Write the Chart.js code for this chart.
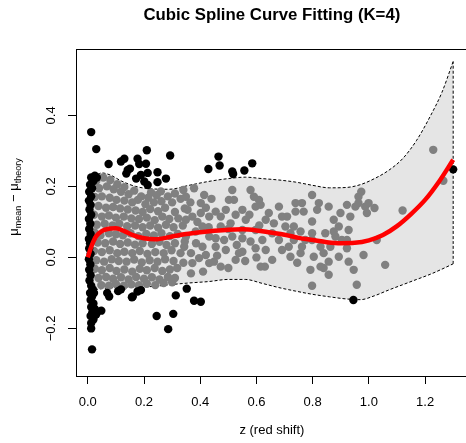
<!DOCTYPE html>
<html>
<head>
<meta charset="utf-8">
<script src="https://cdn.jsdelivr.net/npm/chart.js@4.4.0/dist/chart.umd.min.js"></script>
<style>
  html, body { margin: 0; padding: 0; background: #fff; overflow: hidden; }
  #wrap { width: 472px; height: 443px; }
</style>
</head>
<body>
<div id="wrap"><canvas id="chart" width="472" height="443"></canvas></div>
<script>
// axis ticks
const xTicks = [0, 0.2, 0.4, 0.6, 0.8, 1.0, 1.2];
const yTicks = [-0.2, 0, 0.2, 0.4];

// fitted cubic spline (red)
const fitZ  = [0, 0.01, 0.02, 0.03, 0.05, 0.07, 0.1, 0.13, 0.16, 0.2, 0.24, 0.3, 0.35, 0.4, 0.45, 0.5, 0.55, 0.6, 0.65, 0.7, 0.75, 0.8, 0.85, 0.9, 0.95, 1.0, 1.05, 1.1, 1.15, 1.2, 1.25, 1.3];
const fitMu = [0, 0.025, 0.045, 0.06, 0.074, 0.08, 0.082, 0.074, 0.063, 0.054, 0.051, 0.059, 0.066, 0.071, 0.075, 0.078, 0.079, 0.076, 0.07, 0.064, 0.055, 0.049, 0.043, 0.04, 0.041, 0.048, 0.063, 0.088, 0.122, 0.162, 0.214, 0.275];

// confidence band (dashed, grey fill)
const bandZ     = [0.01, 0.03, 0.05, 0.08, 0.12, 0.17, 0.23, 0.29, 0.36, 0.43, 0.5, 0.56, 0.62, 0.68, 0.74, 0.8, 0.86, 0.92, 0.97, 1.02, 1.07, 1.12, 1.17, 1.22, 1.26, 1.3];
const bandUpper = [0.214, 0.23, 0.238, 0.232, 0.215, 0.2, 0.193, 0.192, 0.203, 0.214, 0.222, 0.226, 0.222, 0.218, 0.212, 0.203, 0.196, 0.197, 0.205, 0.222, 0.245, 0.278, 0.33, 0.4, 0.465, 0.552];
const bandLower = [-0.082, -0.09, -0.088, -0.086, -0.084, -0.083, -0.082, -0.077, -0.072, -0.068, -0.062, -0.062, -0.073, -0.085, -0.095, -0.104, -0.111, -0.117, -0.119, -0.108, -0.092, -0.077, -0.062, -0.047, -0.033, -0.018];

// observations inside the band (grey)
const grayPoints = [
  [0.03,0.215],[0.055,0.225],[0.08,0.218],[0.105,0.206],[0.13,0.198],[0.165,0.188],[0.225,0.183],[0.26,0.186],[0.31,0.18],[0.34,0.19],
  [0.04,0.195],[0.068,0.2],[0.092,0.192],[0.118,0.185],[0.145,0.178],[0.19,0.172],[0.215,0.168],[0.245,0.175],[0.285,0.172],
  [0.025,0.17],[0.05,0.172],[0.078,0.168],[0.102,0.162],[0.13,0.16],[0.158,0.155],[0.178,0.162],[0.205,0.15],[0.235,0.155],[0.262,0.158],[0.3,0.155],[0.33,0.165],
  [0.038,0.145],[0.065,0.14],[0.09,0.142],[0.115,0.138],[0.142,0.135],[0.17,0.132],[0.195,0.128],[0.222,0.136],[0.25,0.13],[0.275,0.14],[0.31,0.128],[0.345,0.138],
  [0.022,0.12],[0.05,0.115],[0.075,0.118],[0.1,0.112],[0.128,0.115],[0.155,0.11],[0.182,0.108],[0.21,0.112],[0.238,0.105],[0.265,0.115],[0.29,0.108],[0.322,0.11],
  [0.032,0.092],[0.06,0.095],[0.088,0.09],[0.112,0.095],[0.14,0.088],[0.168,0.09],[0.195,0.085],[0.222,0.09],[0.25,0.084],[0.278,0.092],[0.305,0.085],[0.338,0.09],
  [0.024,0.07],[0.045,0.062],[0.075,0.068],[0.1,0.065],[0.125,0.062],[0.152,0.068],[0.18,0.06],[0.208,0.066],[0.235,0.062],[0.262,0.068],[0.292,0.06],[0.32,0.066],
  [0.035,0.042],[0.062,0.04],[0.09,0.045],[0.115,0.038],[0.142,0.042],[0.168,0.036],[0.195,0.04],[0.228,0.038],[0.255,0.044],[0.28,0.035],[0.31,0.04],[0.345,0.045],
  [0.022,0.018],[0.05,0.015],[0.078,0.02],[0.105,0.012],[0.13,0.016],[0.158,0.012],[0.185,0.018],[0.212,0.01],[0.24,0.015],[0.27,0.012],[0.298,0.02],[0.33,0.012],
  [0.03,-0.008],[0.058,-0.012],[0.085,-0.005],[0.11,-0.01],[0.138,-0.012],[0.165,-0.006],[0.192,-0.014],[0.22,-0.008],[0.248,-0.012],[0.275,-0.005],[0.305,-0.01],[0.34,-0.015],
  [0.025,-0.032],[0.05,-0.036],[0.078,-0.03],[0.102,-0.038],[0.13,-0.034],[0.158,-0.04],[0.185,-0.032],[0.21,-0.036],[0.238,-0.03],[0.265,-0.038],[0.292,-0.034],[0.318,-0.03],
  [0.038,-0.058],[0.065,-0.055],[0.09,-0.06],[0.118,-0.056],[0.145,-0.062],[0.172,-0.055],[0.2,-0.06],[0.228,-0.056],[0.255,-0.062],[0.285,-0.055],[0.31,-0.058],
  [0.048,-0.078],[0.075,-0.08],[0.1,-0.075],[0.128,-0.08],[0.155,-0.076],[0.182,-0.078],[0.21,-0.074],[0.24,-0.078],[0.27,-0.072],[0.3,-0.07],
  [0.349,0.171],[0.378,0.195],[0.414,0.176],[0.402,0.153],[0.355,0.134],[0.402,0.125],[0.372,0.115],[0.432,0.115],[0.455,0.129],[0.491,0.134],
  [0.514,0.19],[0.579,0.19],[0.591,0.171],[0.52,0.162],[0.55,0.134],[0.597,0.143],[0.526,0.12],[0.562,0.106],[0.508,0.096],[0.473,0.087],
  [0.432,0.059],[0.455,0.054],[0.485,0.049],[0.514,0.059],[0.55,0.054],[0.579,0.045],[0.408,0.03],[0.455,0.03],[0.367,0.012],[0.42,0.007],
  [0.491,0.021],[0.55,0.016],[0.597,0.026],[0.372,-0.016],[0.367,-0.045],[0.432,-0.016],[0.449,-0.012],[0.538,0.012],[0.349,0.059],[0.349,0.106],
  [0.384,0.073],[0.408,0.087],[0.473,0.115],[0.55,0.077],[0.597,0.077],[0.502,0.162],[0.343,0.03],[0.396,-0.002],[0.473,-0.026],[0.526,-0.007],
  [0.39,0.1],[0.42,0.14],[0.44,0.165],[0.365,0.155],[0.385,0.04],[0.43,0.085],[0.5,0.08],[0.53,0.035],[0.575,0.12],[0.61,0.09],
  [0.41,-0.04],[0.46,0.005],[0.5,-0.03],[0.56,-0.01],[0.6,0.0],
  [0.609,0.162],[0.615,0.148],[0.633,0.106],[0.644,0.125],[0.662,0.096],[0.656,0.068],[0.621,0.049],[0.633,0.021],[0.656,-0.007],[0.63,-0.026],
  [0.68,0.143],[0.691,0.115],[0.709,0.115],[0.703,0.087],[0.721,0.068],[0.68,0.049],[0.691,0.021],[0.715,0.03],[0.721,0.002],[0.739,0.153],
  [0.762,0.153],[0.739,0.129],[0.768,0.129],[0.733,0.087],[0.757,0.073],[0.733,0.049],[0.774,0.049],[0.762,0.03],[0.757,0.012],[0.745,-0.015],
  [0.798,0.176],[0.822,0.153],[0.816,0.134],[0.798,0.101],[0.798,0.068],[0.798,0.049],[0.828,0.03],[0.804,0.002],[0.828,-0.026],[0.792,-0.035],
  [0.798,-0.08],[0.839,-0.03],[0.857,-0.049],[0.839,0.012],[0.857,-0.012],[0.863,0.03],[0.845,0.068],[0.875,0.073],[0.881,0.059],[0.857,0.143],
  [0.875,0.106],[0.899,0.125],[0.893,0.087],[0.904,0.049],[0.893,0.002],[0.922,0.148],[0.934,0.115],[0.928,0.077],[0.922,0.049],[0.922,0.026],
  [0.928,-0.012],[0.946,-0.035],[0.952,0.143],[0.963,0.171],[0.973,0.185],[0.963,0.153],[0.987,0.143],[0.999,0.153],[0.993,0.125],[1.02,0.139],
  [0.981,0.007],[0.957,-0.077],[1.028,0.049],[1.058,-0.021],[1.12,0.132],[1.229,0.303],[1.265,0.216],[0.615,-0.026]
];

// observations outside the band (black)
const blackPoints = [
  [0.012,0.225],[0.02,0.215],[0.008,0.205],[0.015,0.195],[0.005,0.185],[0.012,0.172],[0.004,0.16],[0.01,0.148],[0.006,0.135],[0.012,0.12],
  [0.004,0.108],[0.009,0.095],[0.005,0.08],[0.01,0.066],[0.004,0.052],[0.008,0.04],[0.005,0.025],[0.01,0.01],[0.004,-0.005],[0.009,-0.02],
  [0.005,-0.035],[0.01,-0.05],[0.006,-0.065],[0.012,-0.08],[0.018,-0.09],[0.008,-0.1],[0.015,-0.11],[0.022,-0.1],[0.01,-0.12],[0.02,-0.13],
  [0.012,-0.14],[0.025,-0.145],[0.016,-0.155],[0.03,-0.16],[0.01,-0.165],[0.02,-0.175],[0.012,-0.185],[0.025,0.23],[0.032,0.225],
  [0.012,0.353],[0.03,0.305],[0.012,-0.2],[0.015,-0.259],[0.048,-0.15],[0.021,-0.167],
  [0.074,0.263],[0.118,0.27],[0.13,0.278],[0.142,0.246],[0.137,0.236],[0.15,0.25],[0.177,0.278],[0.183,0.263],[0.21,0.302],[0.207,0.264],
  [0.172,0.222],[0.189,0.232],[0.213,0.238],[0.201,0.214],[0.213,0.204],[0.248,0.24],[0.248,0.212],[0.278,0.222],[0.293,0.287],
  [0.429,0.249],[0.465,0.284],[0.469,0.259],[0.514,0.242],[0.517,0.235],[0.557,0.245],[0.585,0.265],
  [0.069,-0.1],[0.076,-0.11],[0.108,-0.095],[0.118,-0.09],[0.157,-0.112],[0.16,-0.11],[0.177,-0.096],[0.189,-0.092],[0.245,-0.165],[0.304,-0.159],
  [0.286,-0.202],[0.313,-0.107],[0.352,-0.088],[0.378,-0.122],[0.402,-0.125],[0.945,-0.12],[1.3,0.248]
];

const toXY = (xs, ys) => xs.map((x, i) => ({ x: x, y: ys[i] }));
const pts = arr => arr.map(p => ({ x: p[0], y: p[1] }));
const FONT = '"Liberation Sans", Arial, Helvetica, sans-serif';

// R-style text: title, axis titles, tick labels and the box
const rText = {
  id: 'rText',
  afterDraw(chart) {
    const { ctx, chartArea, scales } = chart;
    const cx = (chartArea.left + chartArea.right) / 2;
    ctx.save();
    ctx.strokeStyle = '#000';
    ctx.lineWidth = 1;
    ctx.strokeRect(Math.round(chartArea.left) + 0.5, Math.round(chartArea.top) + 0.5,
      Math.round(chartArea.right - chartArea.left), Math.round(chartArea.bottom - chartArea.top));

    ctx.fillStyle = '#000';
    ctx.font = '13px ' + FONT;
    ctx.textAlign = 'center';
    ctx.textBaseline = 'middle';
    xTicks.forEach(v => ctx.fillText(v.toFixed(1), scales.x.getPixelForValue(v), 402));
    yTicks.forEach(v => {
      const y = scales.y.getPixelForValue(v);
      const s = (v < 0 ? '\u2212' : '') + Math.abs(v).toFixed(1);
      ctx.save();
      ctx.translate(51, y);
      ctx.rotate(-Math.PI / 2);
      ctx.fillText(s, 0, 0);
      ctx.restore();
    });

    ctx.textBaseline = 'alphabetic';
    ctx.fillText('z (red shift)', cx, 434);
    ctx.font = 'bold 16.8px ' + FONT;
    ctx.fillText('Cubic Spline Curve Fitting (K=4)', cx, 20);

    // y title: mu_mean - mu_theory
    const parts = [
      { t: '\u03bc', size: 13, dy: 0 },
      { t: 'mean', size: 9, dy: 2.5 },
      { t: ' \u2212 ', size: 13, dy: 0 },
      { t: '\u03bc', size: 13, dy: 0 },
      { t: 'theory', size: 9, dy: 2.5 }
    ];
    let total = 0;
    parts.forEach(p => { ctx.font = p.size + 'px ' + FONT; p.w = ctx.measureText(p.t).width; total += p.w; });
    ctx.translate(18, 197);
    ctx.rotate(-Math.PI / 2);
    ctx.textAlign = 'left';
    let x = -total / 2;
    parts.forEach(p => { ctx.font = p.size + 'px ' + FONT; ctx.fillText(p.t, x, p.dy); x += p.w; });
    ctx.restore();
  }
};

const dashed = { borderColor: '#000', borderWidth: 1, borderDash: [3, 2], pointRadius: 0, cubicInterpolationMode: 'monotone' };

new Chart(document.getElementById('chart'), {
  type: 'scatter',
  data: {
    datasets: [
      Object.assign({ type: 'line', data: toXY(bandZ, bandUpper), backgroundColor: '#e5e5e5', fill: '+1', order: 6 }, dashed),
      Object.assign({ type: 'line', data: toXY(bandZ, bandLower), fill: false, order: 5 }, dashed),
      Object.assign({ type: 'line', data: [{ x: bandZ[bandZ.length - 1], y: bandLower[bandLower.length - 1] }, { x: bandZ[bandZ.length - 1], y: bandUpper[bandUpper.length - 1] }], fill: false, order: 5 }, dashed),
      { data: pts(grayPoints), backgroundColor: '#808080', pointRadius: 4.2, pointBorderWidth: 0, order: 3 },
      { data: pts(blackPoints), backgroundColor: '#000', pointRadius: 4.2, pointBorderWidth: 0, order: 2 },
      { type: 'line', data: toXY(fitZ, fitMu), borderColor: '#ff0000', borderWidth: 4.5, pointRadius: 0, cubicInterpolationMode: 'monotone', fill: false, order: 1 }
    ]
  },
  options: {
    responsive: false,
    animation: false,
    events: [],
    layout: { padding: { left: 0, top: 49, right: 2.5, bottom: 0 } },
    plugins: { legend: { display: false }, tooltip: { enabled: false }, title: { display: false } },
    scales: {
      x: {
        type: 'linear', min: -0.042, max: 1.352,
        afterFit: s => { s.height = 67; },
        ticks: { display: false, stepSize: 0.2, includeBounds: false },
        grid: { drawOnChartArea: false, drawTicks: true, tickLength: 8, color: '#000', lineWidth: 1 },
        border: { display: false }
      },
      y: {
        type: 'linear', min: -0.334, max: 0.587,
        afterFit: s => { s.width = 76; },
        ticks: { display: false, stepSize: 0.2, includeBounds: false },
        grid: { drawOnChartArea: false, drawTicks: true, tickLength: 8, color: '#000', lineWidth: 1 },
        border: { display: false }
      }
    }
  },
  plugins: [rText]
});
</script>
</body>
</html>
